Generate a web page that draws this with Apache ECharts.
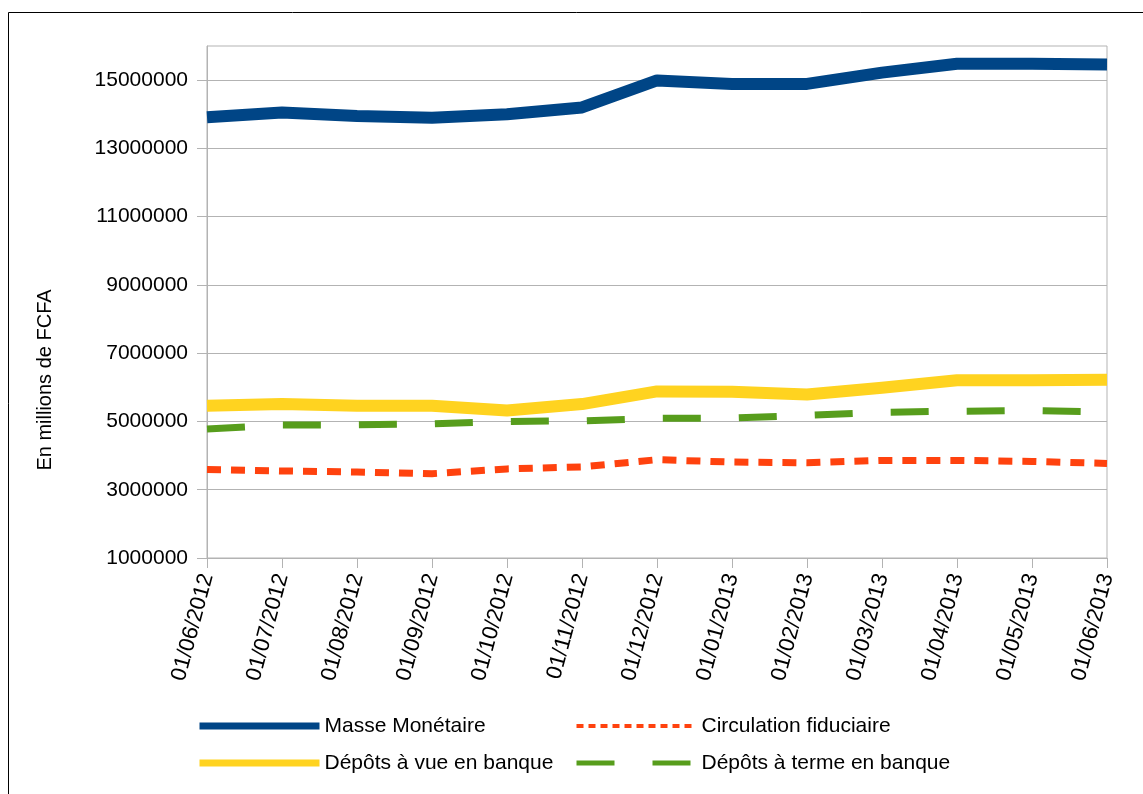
<!DOCTYPE html>
<html>
<head>
<meta charset="utf-8">
<script src="https://cdn.jsdelivr.net/npm/echarts@6/dist/echarts.min.js"></script>
<style>
  html, body { margin: 0; padding: 0; background: #fff; }
  #main { width: 1143px; height: 794px; }
</style>
</head>
<body>
<div id="main"></div>
<script>
const dates = ['01/06/2012', '01/07/2012', '01/08/2012', '01/09/2012', '01/10/2012', '01/11/2012',
  '01/12/2012', '01/01/2013', '01/02/2013', '01/03/2013', '01/04/2013', '01/05/2013', '01/06/2013'];

const masseMonetaire = [13910000, 14050000, 13950000, 13900000, 14000000, 14200000,
  14990000, 14890000, 14890000, 15220000, 15480000, 15480000, 15460000];
const circulationFiduciaire = [3590000, 3550000, 3520000, 3470000, 3610000, 3670000,
  3880000, 3810000, 3790000, 3860000, 3860000, 3830000, 3770000];
const depotsVue = [5460000, 5510000, 5460000, 5460000, 5320000, 5510000,
  5880000, 5870000, 5790000, 5990000, 6210000, 6210000, 6220000];
const depotsTerme = [4780000, 4900000, 4900000, 4930000, 5000000, 5020000,
  5090000, 5100000, 5180000, 5270000, 5300000, 5320000, 5280000];

const yTicks = [1000000, 3000000, 5000000, 7000000, 9000000, 11000000, 13000000, 15000000];

const gridGray = '#b3b3b3';
const font = 'Liberation Sans, Arial, sans-serif';
const noMarker = { color: 'rgba(0,0,0,0)', borderColor: 'rgba(0,0,0,0)', borderWidth: 0 };

const chart = echarts.init(document.getElementById('main'));

chart.setOption({
  animation: false,
  textStyle: { fontFamily: font },
  grid: {
    left: 207, right: 36, top: 46, bottom: 236,
    show: true, borderColor: gridGray, borderWidth: 1
  },
  graphic: [
    {
      type: 'rect',
      shape: { x: 8.5, y: 12.5, width: 1300, height: 900 },
      style: { fill: 'none', stroke: '#000', lineWidth: 1 },
      silent: true
    },
    {
      type: 'text',
      x: 45, y: 380, rotation: Math.PI / 2,
      style: {
        text: 'En millions de FCFA',
        fontSize: 20, fontFamily: font, fill: '#000',
        align: 'center', verticalAlign: 'middle'
      }
    }
  ],
  legend: [
    {
      orient: 'vertical', left: 196, top: 714, padding: 0,
      itemWidth: 120, itemHeight: 14, itemGap: 13,
      textStyle: { fontSize: 21, lineHeight: 24, color: '#000' },
      data: [
        { name: 'Masse Monétaire', lineStyle: { width: 7 }, itemStyle: noMarker },
        { name: 'Dépôts à vue en banque', lineStyle: { width: 7 }, itemStyle: noMarker }
      ]
    },
    {
      orient: 'vertical', left: 574, top: 714, padding: 0,
      itemWidth: 120, itemHeight: 14, itemGap: 13,
      textStyle: { fontSize: 21, lineHeight: 24, color: '#000' },
      data: [
        { name: 'Circulation fiduciaire', lineStyle: { width: 4, type: [7, 5] }, itemStyle: noMarker },
        { name: 'Dépôts à terme en banque', lineStyle: { width: 5, type: [38, 38] }, itemStyle: noMarker }
      ]
    }
  ],
  xAxis: {
    type: 'category',
    data: dates,
    boundaryGap: false,
    axisLine: { lineStyle: { color: gridGray } },
    axisTick: { length: 10, lineStyle: { color: gridGray } },
    axisLabel: { rotate: 75, margin: 16, fontSize: 22, color: '#000', interval: 0 },
    splitLine: { show: false }
  },
  yAxis: {
    type: 'value',
    min: 1000000, max: 16000000, interval: 2000000,
    axisLine: { show: true, lineStyle: { color: gridGray } },
    axisTick: { show: true, length: 10, lineStyle: { color: gridGray }, customValues: yTicks },
    axisLabel: {
      fontSize: 21, color: '#000', margin: 19, customValues: yTicks,
      formatter: v => String(v)
    },
    splitLine: { lineStyle: { color: gridGray } }
  },
  series: [
    {
      name: 'Masse Monétaire', type: 'line', data: masseMonetaire,
      symbol: 'none', color: '#004586',
      lineStyle: { width: 12, color: '#004586', join: 'round' }
    },
    {
      name: 'Circulation fiduciaire', type: 'line', data: circulationFiduciaire,
      symbol: 'none', color: '#ff420e',
      lineStyle: { width: 7, color: '#ff420e', type: [14, 10] }
    },
    {
      name: 'Dépôts à vue en banque', type: 'line', data: depotsVue,
      symbol: 'none', color: '#ffd320',
      lineStyle: { width: 12, color: '#ffd320', join: 'round' }
    },
    {
      name: 'Dépôts à terme en banque', type: 'line', data: depotsTerme,
      symbol: 'none', color: '#579d1c',
      lineStyle: { width: 7, color: '#579d1c', type: [38, 38] }
    }
  ]
});
</script>
</body>
</html>
